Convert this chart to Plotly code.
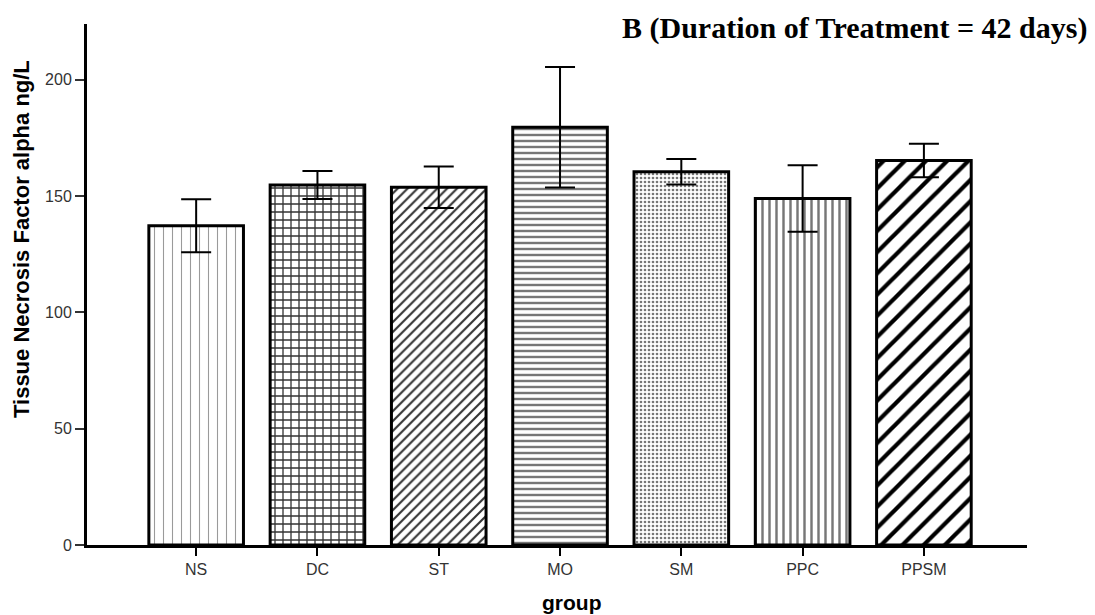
import plotly.graph_objects as go

# TNF-alpha by treatment group, 42-day treatment
groups = ["NS", "DC", "ST", "MO", "SM", "PPC", "PPSM"]
means = [137.3, 154.8, 153.8, 179.6, 160.5, 149.0, 165.3]
errors = [11.4, 6.0, 8.9, 25.9, 5.5, 14.3, 7.2]
y_ticks = [0, 50, 100, 150, 200]

# hatch styles per group (same order as groups)
hatch_shape = ["|", "+", "/", "-", ".", "|", "/"]
hatch_size = [9, 8, 7, 6, 4, 7, 15]
hatch_solidity = [0.12, 0.3, 0.3, 0.4, 0.35, 0.35, 0.28]
hatch_color = ["#9a9a9a", "#333333", "#333333", "#777777", "#777777", "#777777", "#000000"]

W, H = 1095, 615
ML, MR, MT, MB = 87, 68, 24, 70
PW, PH = W - ML - MR, H - MT - MB


def px_x(px):
    return (px - ML) / PW


def px_y(py):
    return 1 - (py - MT) / PH


fig = go.Figure()
fig.add_trace(go.Bar(
    x=groups,
    y=means,
    width=0.78,
    marker=dict(
        color="white",
        line=dict(color="black", width=3),
        pattern=dict(
            shape=hatch_shape,
            size=hatch_size,
            solidity=hatch_solidity,
            fgcolor=hatch_color,
            bgcolor="white",
            fillmode="replace",
        ),
    ),
    error_y=dict(type="data", array=errors, color="black", thickness=2, width=15),
    showlegend=False,
))

sans = "Liberation Sans, Arial, sans-serif"
tick_font = dict(family=sans, size=16, color="#333333")

fig.update_layout(
    width=W,
    height=H,
    margin=dict(l=ML, r=MR, t=MT, b=MB),
    paper_bgcolor="white",
    plot_bgcolor="white",
    xaxis=dict(
        range=[-0.9, 6.85],
        showline=True, linecolor="black", linewidth=3,
        ticks="outside", ticklen=8, tickwidth=2, tickcolor="black",
        tickfont=tick_font, showgrid=False, zeroline=False,
    ),
    yaxis=dict(
        range=[0, 224],
        tickvals=y_ticks,
        showline=True, linecolor="black", linewidth=3,
        ticks="outside", ticklen=9, tickwidth=2, tickcolor="#333333",
        tickfont=tick_font, showgrid=False, zeroline=False,
    ),
    annotations=[
        dict(
            text="<b>Tissue Necrosis Factor alpha ng/L</b>",
            xref="paper", yref="paper",
            x=px_x(21), y=px_y(239),
            xanchor="center", yanchor="middle", textangle=-90, showarrow=False,
            font=dict(family=sans, size=22, color="black"),
        ),
        dict(
            text="<b>group</b>",
            xref="paper", yref="paper",
            x=px_x(571), y=px_y(602),
            xanchor="center", yanchor="middle", showarrow=False,
            font=dict(family=sans, size=21, color="black"),
        ),
        dict(
            text="<b>B (Duration of Treatment = 42 days)</b>",
            xref="paper", yref="paper",
            x=px_x(1089), y=px_y(28),
            xanchor="right", yanchor="middle", showarrow=False,
            font=dict(family="Liberation Serif, Times New Roman, serif", size=30, color="black"),
        ),
    ],
)

fig.write_html("out.html")
